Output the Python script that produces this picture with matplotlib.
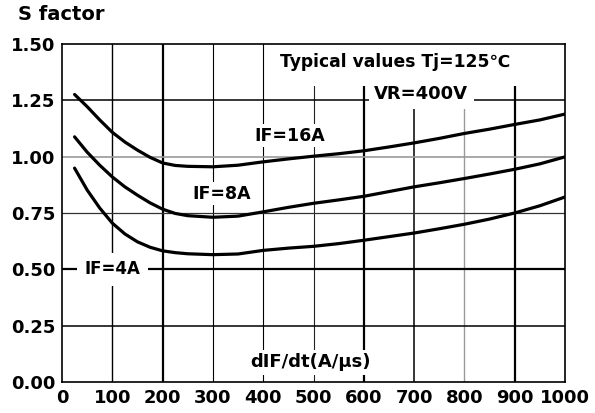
import numpy as np
import matplotlib
matplotlib.use('Agg')
import matplotlib.pyplot as plt

plt.rcParams['font.family'] = ['DejaVu Sans']
plt.rcParams['font.weight'] = 'bold'

# dIF/dt (A/us)
didt = [25, 50, 75, 100, 125, 150, 175, 200, 225, 250, 300, 350, 400, 450, 500,
        550, 600, 650, 700, 750, 800, 850, 900, 950, 1000]
s_16a = [1.276, 1.222, 1.163, 1.108, 1.065, 1.029, 0.997, 0.972, 0.961, 0.957, 0.955, 0.962, 0.977, 0.990, 1.002,
         1.013, 1.026, 1.043, 1.061, 1.081, 1.103, 1.122, 1.143, 1.163, 1.189]
s_8a = [1.088, 1.020, 0.962, 0.910, 0.866, 0.829, 0.795, 0.767, 0.748, 0.738, 0.731, 0.736, 0.755, 0.775, 0.793,
        0.808, 0.824, 0.845, 0.866, 0.884, 0.903, 0.923, 0.944, 0.968, 0.999]
s_4a = [0.949, 0.852, 0.772, 0.705, 0.657, 0.622, 0.598, 0.582, 0.574, 0.569, 0.565, 0.568, 0.584, 0.594, 0.602,
        0.614, 0.629, 0.645, 0.661, 0.680, 0.700, 0.723, 0.750, 0.782, 0.821]

xticks = [0, 100, 200, 300, 400, 500, 600, 700, 800, 900, 1000]
yticks = [0.0, 0.25, 0.5, 0.75, 1.0, 1.25, 1.5]

fig = plt.figure(figsize=(5.95, 4.13), dpi=100)
ax = fig.add_axes([0.1042, 0.0751, 0.8454, 0.8184])
ax.set_xlim(0, 1000)
ax.set_ylim(0, 1.5)

# grid drawn by hand, the scan has uneven line weights
vstyle = {100: ('black', 1.0), 200: ('black', 1.6), 300: ('black', 0.8), 400: ('black', 0.8),
          500: ('#222222', 0.8), 600: ('black', 1.6), 700: ('black', 1.1), 800: ('#999999', 1.0),
          900: ('black', 1.6)}
for xv, (c, lw) in vstyle.items():
    ax.axvline(xv, color=c, lw=lw, zorder=1)
hstyle = {0.25: ('black', 1.1), 0.5: ('black', 1.6), 0.75: ('#333333', 0.9),
          1.0: ('#999999', 1.2), 1.25: ('black', 1.1)}
for yv, (c, lw) in hstyle.items():
    ax.axhline(yv, color=c, lw=lw, zorder=1)

for s in (s_16a, s_8a, s_4a):
    ax.plot(didt, s, color='black', lw=2.3, solid_capstyle='round', solid_joinstyle='round', zorder=3)

def white(pad):
    return dict(facecolor='white', edgecolor='none', boxstyle='square,pad=%s' % pad)

ax.text(453, 1.093, 'IF=16A', fontsize=12.5, ha='center', va='center', bbox=white(0.15), zorder=2)
ax.text(317, 0.836, 'IF=8A', fontsize=12.5, ha='center', va='center', bbox=white(0.15), zorder=2)
ax.text(100, 0.50, 'IF=4A', fontsize=12, ha='center', va='center', bbox=white(0.45), zorder=2)
ax.text(662, 1.42, 'Typical values Tj=125℃', fontsize=12.3, ha='center', va='center',
        bbox=white(0.85), zorder=2)
ax.text(714, 1.276, 'VR=400V', fontsize=13, ha='center', va='center', bbox=white(0.3), zorder=2)
ax.text(495, 0.087, 'dIF/dt(A/μs)', fontsize=13, ha='center', va='center', bbox=white(0.2), zorder=2)

ax.set_xticks(xticks)
ax.set_xticklabels([str(v) for v in xticks], fontsize=13, fontweight='bold')
ax.set_yticks(yticks)
ax.set_yticklabels(['%.2f' % v for v in yticks], fontsize=13, fontweight='bold')
ax.tick_params(length=0, pad=5)
for sp in ax.spines.values():
    sp.set_color('black')
    sp.set_linewidth(1.2)
    sp.set_zorder(4)

fig.text(0.030, 0.966, 'S factor', fontsize=14, fontweight='bold', ha='left', va='center')

fig.savefig('out.png', dpi=100)
